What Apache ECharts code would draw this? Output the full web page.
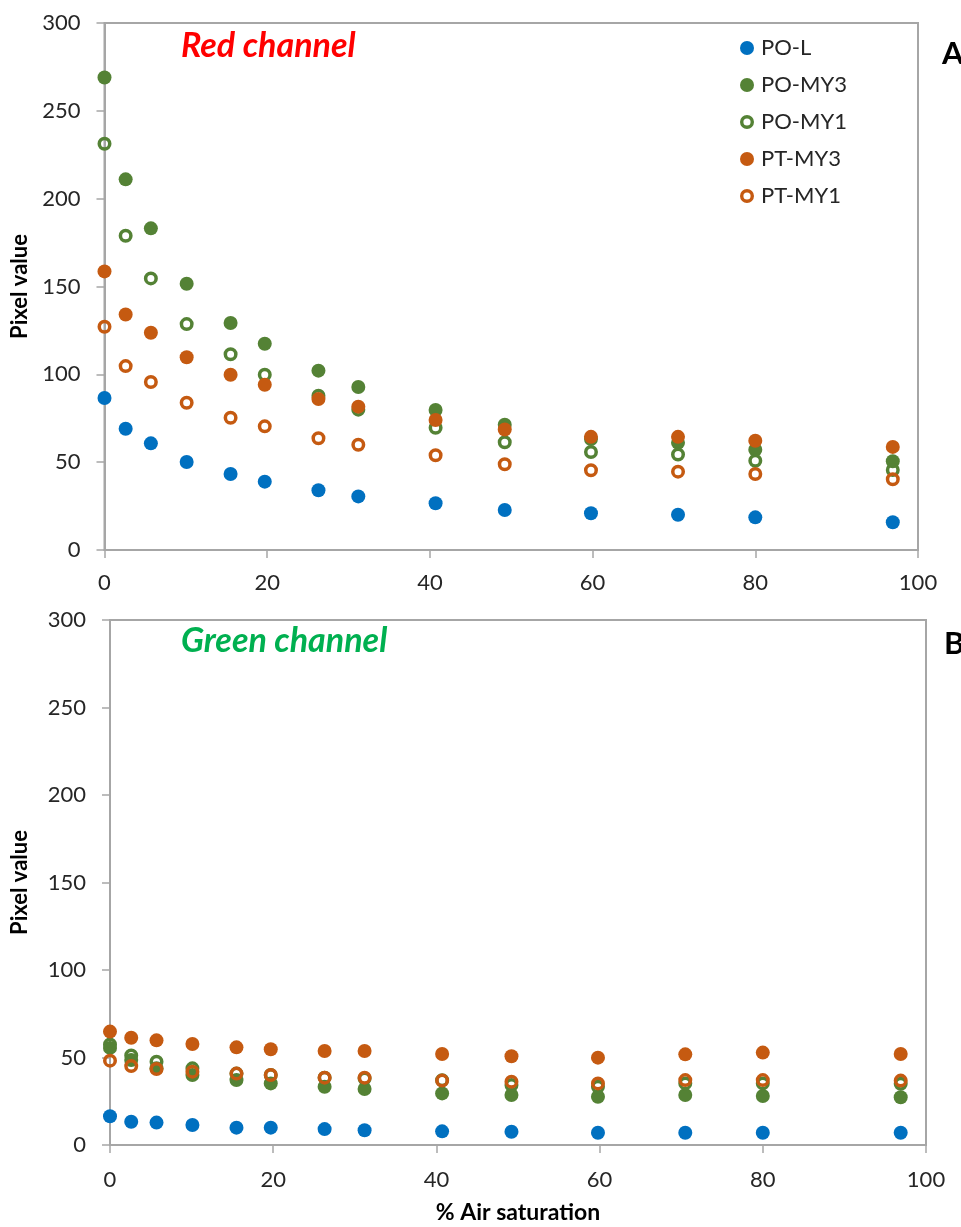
<!DOCTYPE html>
<html>
<head>
<meta charset="utf-8">
<script src="https://cdn.jsdelivr.net/npm/echarts@6/dist/echarts.min.js"></script>
<style>
html,body{margin:0;padding:0;background:#fff;}
#chart{width:961px;height:1227px;}
</style>
</head>
<body>
<div id="chart"></div>
<script>
// % air saturation (shared by all series)
const airSat = [0, 2.6, 5.7, 10.1, 15.5, 19.7, 26.3, 31.2, 40.7, 49.2, 59.8, 70.5, 80.0, 96.9];
const seriesNames = ['PO-L', 'PO-MY3', 'PO-MY1', 'PT-MY3', 'PT-MY1'];
const xTicks = [0, 20, 40, 60, 80, 100];
const yTicks = [0, 50, 100, 150, 200, 250, 300];

// Red channel
const redPOL   = [86.5, 69.0, 60.7, 50.1, 43.3, 38.9, 34.0, 30.5, 26.6, 22.8, 20.9, 20.1, 18.6, 15.8];
const redPOMY3 = [269.0, 211.0, 183.1, 151.6, 129.2, 117.4, 102.1, 92.8, 79.7, 71.3, 63.2, 61.0, 57.1, 50.5];
const redPOMY1 = [231.3, 178.9, 154.6, 128.6, 111.4, 99.8, 87.8, 79.9, 69.6, 61.3, 55.8, 54.4, 50.8, 45.5];
const redPTMY3 = [158.6, 134.1, 123.7, 109.7, 99.8, 94.1, 85.9, 81.6, 74.0, 68.6, 64.4, 64.4, 62.2, 58.7];
const redPTMY1 = [127.1, 104.7, 95.6, 83.8, 75.3, 70.4, 63.6, 59.9, 53.9, 48.8, 45.4, 44.6, 43.3, 40.3];

// Green channel
const grnPOL   = [16.4, 13.3, 12.8, 11.4, 9.9, 9.9, 9.1, 8.4, 7.8, 7.6, 7.0, 7.0, 7.0, 7.0];
const grnPOMY3 = [55.5, 48.6, 43.8, 40.0, 37.1, 35.2, 33.3, 32.0, 29.5, 28.6, 27.6, 28.6, 28.0, 27.3];
const grnPOMY1 = [57.5, 51.2, 47.6, 43.8, 40.8, 40.0, 38.5, 38.0, 37.0, 34.3, 33.3, 35.2, 35.2, 35.0];
const grnPTMY3 = [64.8, 61.3, 59.8, 57.7, 55.8, 54.7, 53.7, 53.7, 52.0, 50.7, 49.9, 51.8, 52.8, 52.0];
const grnPTMY1 = [48.2, 45.1, 43.4, 41.9, 40.8, 40.0, 38.5, 38.5, 36.8, 36.2, 35.2, 37.1, 37.1, 36.8];

const BLUE = '#0070C0', GREEN = '#548235', ORANGE = '#C55A11';
const FONT = 'Lato';
const AXIS_COLOR = '#A6A6A6';
const TEXT_COLOR = '#262626';
const RING_ICON = 'path://M7,0 A7,7 0 1,1 7,14 A7,7 0 1,1 7,0 Z M7,3.4 A3.6,3.6 0 1,0 7,10.6 A3.6,3.6 0 1,0 7,3.4 Z';

const styles = [
  {color: BLUE, hollow: false},
  {color: GREEN, hollow: false},
  {color: GREEN, hollow: true},
  {color: ORANGE, hollow: false},
  {color: ORANGE, hollow: true}
];

function hollowStyle(c) {
  return {color: 'rgba(255,255,255,0)', borderColor: c, borderWidth: 3.5, opacity: 1};
}

function pairs(ys) { return airSat.map((x, i) => [x, ys[i]]); }

function makeSeries(arrs, gi) {
  return arrs.map((ys, i) => {
    const st = styles[i];
    return {
      name: seriesNames[i],
      type: 'scatter',
      xAxisIndex: gi, yAxisIndex: gi,
      data: pairs(ys),
      symbol: 'circle',
      symbolSize: st.hollow ? 10.5 : 14,
      itemStyle: st.hollow ? hollowStyle(st.color) : {color: st.color, opacity: 1},
      emphasis: {disabled: true},
      animation: false,
      z: 2 + i
    };
  });
}

function xAxis(gi, withName) {
  return {
    type: 'value', gridIndex: gi, min: 0, max: 100, interval: 20,
    axisLine: {show: true, onZero: false, lineStyle: {color: AXIS_COLOR, width: 2}},
    axisTick: {show: true, length: 8, lineStyle: {color: AXIS_COLOR, width: 1.5}},
    axisLabel: {margin: gi === 0 ? 22 : 24, fontFamily: FONT, fontSize: 22, color: TEXT_COLOR,
      formatter: v => xTicks.includes(v) ? String(v) : ''},
    splitLine: {show: false},
    name: withName ? '% Air saturation' : '',
    nameLocation: 'middle', nameGap: 56,
    nameTextStyle: {fontFamily: FONT, fontSize: 23, fontWeight: 'bold', color: '#000'}
  };
}

function yAxis(gi) {
  return {
    type: 'value', gridIndex: gi, min: 0, max: 300, interval: 50,
    axisLine: {show: true, onZero: false, lineStyle: {color: AXIS_COLOR, width: 2}},
    axisTick: {show: true, length: 8, lineStyle: {color: AXIS_COLOR, width: 1.5}},
    axisLabel: {margin: 24, fontFamily: FONT, fontSize: 22, color: TEXT_COLOR,
      formatter: v => yTicks.includes(v) ? String(v) : ''},
    splitLine: {show: false},
    name: 'Pixel value', nameLocation: 'middle', nameGap: gi === 0 ? 74 : 79,
    nameTextStyle: {fontFamily: FONT, fontSize: 22, fontWeight: 'bold', color: '#000'}
  };
}

const legendData = seriesNames.map((n, i) => styles[i].hollow
  ? {name: n, icon: RING_ICON, itemStyle: {color: styles[i].color, borderWidth: 0}}
  : {name: n, icon: 'circle'});

const chart = echarts.init(document.getElementById('chart'), null, {renderer: 'canvas'});
chart.setOption({
  backgroundColor: '#fff',
  animation: false,
  grid: [
    {left: 104.5, top: 23, width: 813.5, height: 527, show: true, borderColor: AXIS_COLOR, borderWidth: 2, containLabel: false},
    {left: 110, top: 620, width: 816, height: 525, show: true, borderColor: AXIS_COLOR, borderWidth: 2, containLabel: false}
  ],
  title: [
    {text: 'Red channel', left: 176, top: 24,
      textStyle: {fontFamily: FONT, fontSize: 34, fontWeight: 'bold', fontStyle: 'italic', color: '#FF0000'}},
    {text: 'Green channel', left: 176, top: 619,
      textStyle: {fontFamily: FONT, fontSize: 34, fontWeight: 'bold', fontStyle: 'italic', color: '#00B050'}},
    {text: 'A', left: 937, top: 33,
      textStyle: {fontFamily: FONT, fontSize: 31, fontWeight: 'bold', color: '#000'}},
    {text: 'B', left: 939, top: 623,
      textStyle: {fontFamily: FONT, fontSize: 31, fontWeight: 'bold', color: '#000'}}
  ],
  legend: {
    data: legendData,
    orient: 'vertical', left: 740, top: 37, padding: 0,
    itemWidth: 14, itemHeight: 14, itemGap: 15,
    selectedMode: false,
    textStyle: {fontFamily: FONT, fontSize: 22, color: TEXT_COLOR, padding: [0, 0, 0, 2]}
  },
  xAxis: [xAxis(0, false), xAxis(1, true)],
  yAxis: [yAxis(0), yAxis(1)],
  series: [
    ...makeSeries([redPOL, redPOMY3, redPOMY1, redPTMY3, redPTMY1], 0),
    ...makeSeries([grnPOL, grnPOMY3, grnPOMY1, grnPTMY3, grnPTMY1], 1)
  ]
});
</script>
</body>
</html>
